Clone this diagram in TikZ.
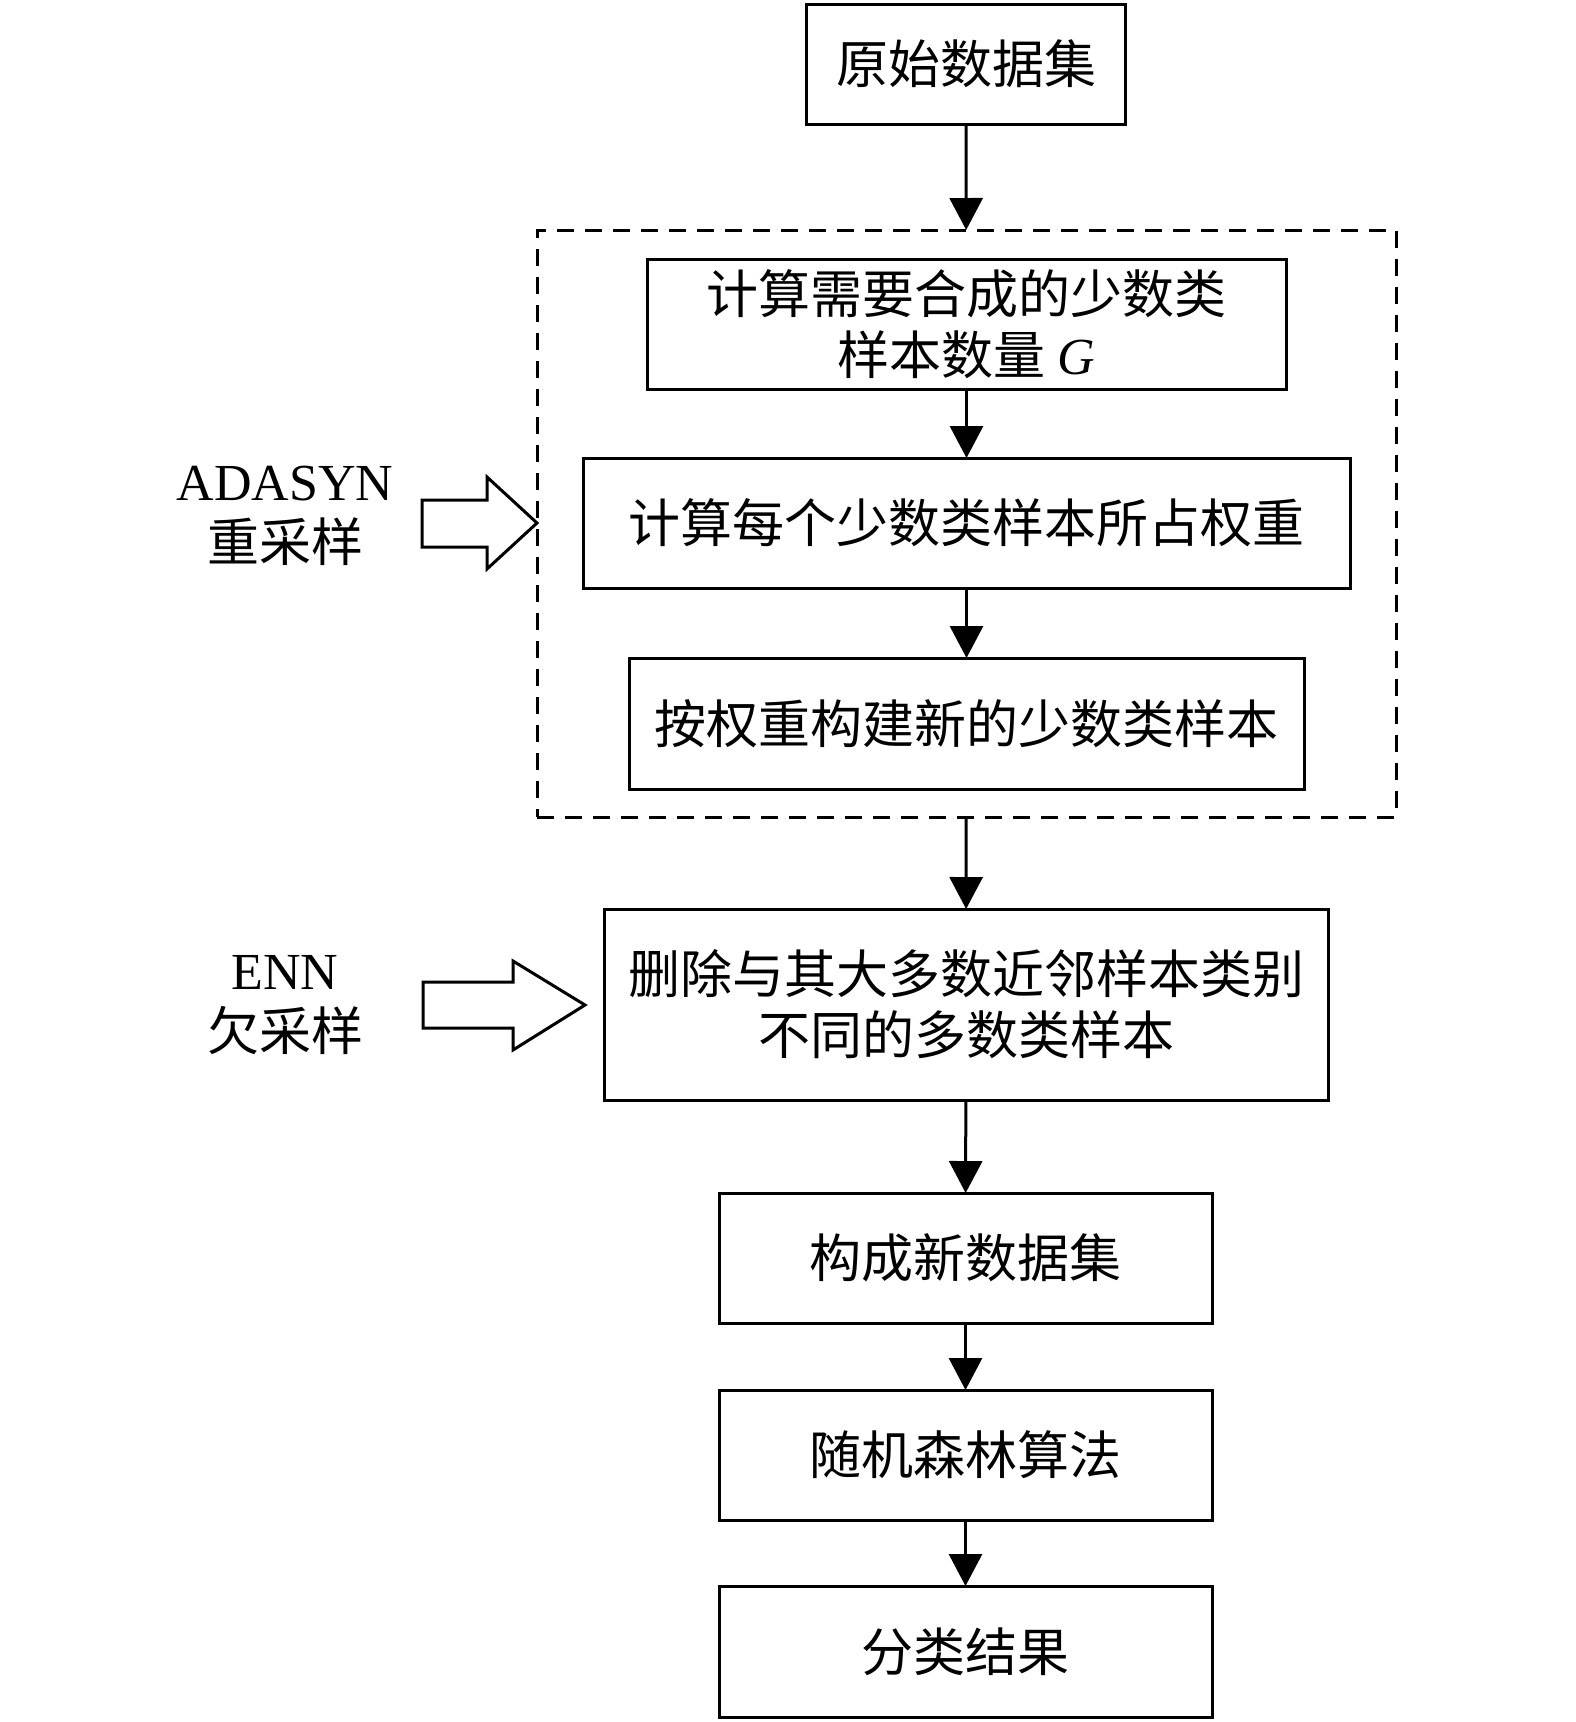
\documentclass[tikz,border=0pt]{standalone}
\usepackage{fontspec}
\setmainfont{Liberation Serif}
\newfontfamily\cjk{Noto Sans CJK SC}
\usetikzlibrary{arrows.meta}

\tikzset{
  stepbox/.style={draw, line width=3pt, inner sep=0pt, outer sep=0pt,
    align=center, font=\cjk\fontsize{52}{61}\selectfont},
  flow/.style={line width=3pt, -{Triangle[width=33pt,length=32pt]}},
  side/.style={align=center, font=\fontsize{52}{61}\selectfont},
}

\begin{document}
\begin{tikzpicture}[x=1pt, y=-1pt]
  \useasboundingbox (0,0) rectangle (1575,1722);

  \node[stepbox, minimum width=319pt, minimum height=120pt] (raw) at (966,64) {原始数据集};

  \node[draw, line width=3pt, dash pattern=on 17pt off 11pt, inner sep=0pt, outer sep=0pt,
    minimum width=859pt, minimum height=587pt] (adasyn) at (966.5,523.5) {};
  \node[stepbox, minimum width=639pt, minimum height=130pt] (count) at (966.5,324)
    {计算需要合成的少数类\\样本数量 {\rmfamily\itshape G}};
  \node[stepbox, minimum width=767pt, minimum height=130pt] (weight) at (966.5,523)
    {计算每个少数类样本所占权重};
  \node[stepbox, minimum width=675pt, minimum height=131pt] (build) at (966.5,723.5)
    {按权重构建新的少数类样本};

  \node[stepbox, minimum width=724pt, minimum height=191pt] (enn) at (966,1004.5)
    {删除与其大多数近邻样本类别\\不同的多数类样本};
  \node[stepbox, minimum width=493pt, minimum height=130pt] (newset) at (965.5,1258) {构成新数据集};
  \node[stepbox, minimum width=493pt, minimum height=130pt] (forest) at (965.5,1455) {随机森林算法};
  \node[stepbox, minimum width=493pt, minimum height=131pt] (result) at (965.5,1651.5) {分类结果};

  % vertical flow
  \draw[flow] (raw) -- (adasyn);
  \draw[flow] (count) -- (weight);
  \draw[flow] (weight) -- (build);
  \draw[flow] (adasyn) -- (enn);
  \draw[flow] (enn) -- (newset);
  \draw[flow] (newset) -- (forest);
  \draw[flow] (forest) -- (result);

  % side labels and hollow arrows
  \node[side] (lbla) at (285,516) {ADASYN\\{\cjk 重采样}};
  \node[side] (lble) at (285,1005) {ENN\\{\cjk 欠采样}};
  \draw[line width=3pt, line join=miter] (422,500) -- (487,500) -- (487,477) -- (adasyn.west |- 0,523)
    -- (487,569) -- (487,547) -- (422,547) -- cycle;
  \draw[line width=3pt, line join=miter] (423,982) -- (513,982) -- (513,961) -- (585,1005)
    -- (513,1050) -- (513,1028) -- (423,1028) -- cycle;
\end{tikzpicture}
\end{document}
